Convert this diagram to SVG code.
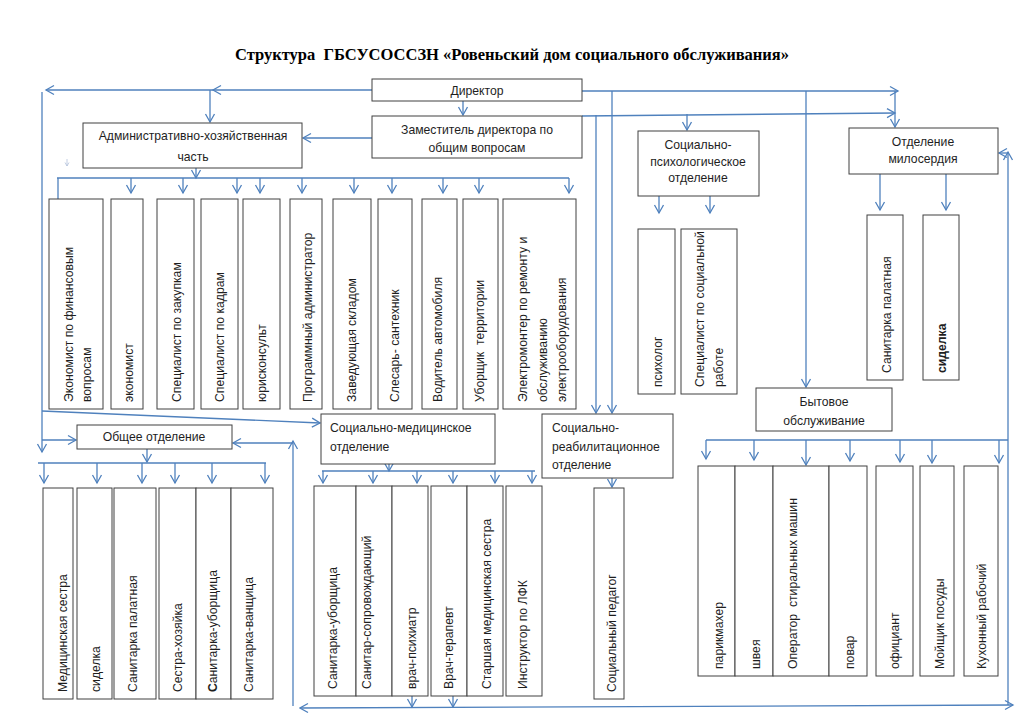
<svg xmlns="http://www.w3.org/2000/svg" width="1024" height="724" viewBox="0 0 1024 724">
<style>
.box{fill:#fff;stroke:#404040;stroke-width:1}
.t{font-family:"Liberation Sans",Arial,sans-serif;font-size:12.2px;fill:#1e1e1e}
.c{text-anchor:middle}
.ttl{font-family:"Liberation Serif","Times New Roman",serif;font-size:16.5px;font-weight:bold;fill:#000;text-anchor:middle}
.ln{stroke:#4f81bd;stroke-width:1.3;fill:none}
.ar{marker-end:url(#a)}
.as{marker-start:url(#b)}
.faint{stroke:#b4c2dc;stroke-width:0.8;fill:none}
</style>
<defs>
<marker id="a" markerUnits="userSpaceOnUse" markerWidth="12" markerHeight="12" refX="9" refY="5" orient="auto" viewBox="0 0 12 10">
<path d="M1,0.5 L9,5 L1,9.5" fill="none" stroke="#4f81bd" stroke-width="1.3"/>
</marker>
<marker id="b" markerUnits="userSpaceOnUse" markerWidth="12" markerHeight="12" refX="1" refY="5" orient="auto" viewBox="0 0 12 10">
<path d="M9,0.5 L1,5 L9,9.5" fill="none" stroke="#4f81bd" stroke-width="1.3"/>
</marker>
<marker id="s" markerUnits="userSpaceOnUse" markerWidth="6" markerHeight="6" refX="4" refY="2.5" orient="auto" viewBox="0 0 6 5">
<path d="M0.5,0.5 L4,2.5 L0.5,4.5" fill="none" stroke="#b4c2dc" stroke-width="0.8"/>
</marker>
</defs>
<rect width="1024" height="724" fill="#fff"/>
<text class="ttl" x="512" y="60" xml:space="preserve">Структура  ГБСУСОССЗН «Ровеньский дом социального обслуживания»</text>

<g id="connectors">
<line class="ln ar" x1="372" y1="90" x2="213" y2="90"/>
<line class="ln ar" x1="213" y1="90" x2="46" y2="90"/>
<line class="ln ar" x1="210" y1="90" x2="210" y2="122"/>
<line class="ln ar" x1="42" y1="92" x2="42" y2="452"/>
<line class="ln ar" x1="42" y1="440" x2="76" y2="440"/>
<line class="ln ar" x1="463" y1="101" x2="463" y2="115"/>
<line class="ln ar" x1="372" y1="138" x2="303" y2="138"/>
<line class="ln ar" x1="196" y1="168" x2="196" y2="178"/>
<line class="ln" x1="57" y1="178" x2="569" y2="178"/>
<line class="ln" x1="58" y1="178" x2="58" y2="199"/>
<line class="ln ar" x1="131" y1="178" x2="131" y2="193"/>
<line class="ln ar" x1="183" y1="178" x2="183" y2="193"/>
<line class="ln ar" x1="237" y1="178" x2="237" y2="193"/>
<line class="ln ar" x1="260" y1="178" x2="260" y2="193"/>
<line class="ln ar" x1="302" y1="178" x2="302" y2="193"/>
<line class="ln ar" x1="354" y1="178" x2="354" y2="193"/>
<line class="ln ar" x1="392" y1="178" x2="392" y2="193"/>
<line class="ln ar" x1="443" y1="178" x2="443" y2="193"/>
<line class="ln ar" x1="479" y1="178" x2="479" y2="193"/>
<line class="ln ar" x1="569" y1="178" x2="569" y2="193"/>
<line class="faint" x1="67" y1="159" x2="67" y2="166" marker-end="url(#s)"/>
<line class="ln ar" x1="582" y1="91" x2="898" y2="91"/>
<line class="ln ar" x1="895" y1="91" x2="895" y2="127"/>
<line class="ln ar" x1="582" y1="116" x2="895" y2="113"/>
<line class="ln ar" x1="687" y1="114" x2="687" y2="130"/>
<line class="ln ar" x1="596" y1="115" x2="596" y2="413"/>
<line class="ln ar" x1="612" y1="91" x2="612" y2="413"/>
<line class="ln ar" x1="806" y1="91" x2="806" y2="387"/>
<line class="ln ar" x1="659" y1="196" x2="659" y2="213"/>
<line class="ln ar" x1="710" y1="196" x2="710" y2="213"/>
<line class="ln ar" x1="880" y1="174" x2="880" y2="210"/>
<line class="ln ar" x1="946" y1="174" x2="946" y2="210"/>
<line class="ln ar" x1="1008" y1="705" x2="1008" y2="152"/>
<line class="ln ar" x1="1008" y1="153" x2="999" y2="153"/>
<line class="ln" x1="706" y1="440" x2="1008" y2="440"/>
<line class="ln ar" x1="706" y1="440" x2="706" y2="459"/>
<line class="ln ar" x1="754" y1="440" x2="754" y2="460"/>
<line class="ln ar" x1="806" y1="440" x2="806" y2="465"/>
<line class="ln ar" x1="850" y1="440" x2="850" y2="461"/>
<line class="ln ar" x1="900" y1="440" x2="900" y2="462"/>
<line class="ln ar" x1="932" y1="440" x2="932" y2="463"/>
<line class="ln ar" x1="999" y1="440" x2="999" y2="463"/>
<line class="ln ar as" x1="300" y1="708" x2="1013" y2="705"/>
<line class="ln ar" x1="412" y1="696" x2="412" y2="707"/>
<line class="ln ar" x1="453" y1="696" x2="453" y2="707"/>
<line class="ln ar" x1="293" y1="706" x2="293" y2="441"/>
<line class="ln ar" x1="293" y1="443" x2="233" y2="443"/>
<line class="ln ar" x1="42" y1="411" x2="320" y2="423"/>
<line class="ln ar" x1="147" y1="449" x2="147" y2="462"/>
<line class="ln" x1="38" y1="463" x2="266" y2="463"/>
<line class="ln ar" x1="44" y1="463" x2="44" y2="483"/>
<line class="ln ar" x1="97" y1="463" x2="97" y2="483"/>
<line class="ln ar" x1="142" y1="463" x2="142" y2="483"/>
<line class="ln ar" x1="175" y1="463" x2="175" y2="483"/>
<line class="ln ar" x1="212" y1="463" x2="212" y2="483"/>
<line class="ln ar" x1="265" y1="463" x2="265" y2="483"/>
<line class="ln ar" x1="389" y1="464" x2="389" y2="471"/>
<line class="ln" x1="322" y1="471" x2="535" y2="471"/>
<line class="ln ar" x1="323" y1="471" x2="323" y2="483"/>
<line class="ln ar" x1="373" y1="471" x2="373" y2="483"/>
<line class="ln ar" x1="417" y1="471" x2="417" y2="483"/>
<line class="ln ar" x1="453" y1="471" x2="453" y2="483"/>
<line class="ln ar" x1="495" y1="471" x2="495" y2="483"/>
<line class="ln ar" x1="532" y1="471" x2="532" y2="483"/>
<line class="ln ar" x1="612" y1="478" x2="612" y2="487"/>
</g>

<g id="director"><rect class="box" x="372" y="79" width="210" height="22"/><text class="t c" x="477" y="95">Директор</text></g>
<g id="deputy"><rect class="box" x="372" y="116" width="210" height="42"/><text class="t c" x="477" y="134">Заместитель директора по</text><text class="t c" x="477" y="152">общим вопросам</text></g>
<g id="ahch"><rect class="box" x="83" y="123" width="219" height="45"/><text class="t c" x="193" y="140">Административно-хозяйственная</text><text class="t c" x="193" y="161">часть</text></g>
<g id="socpsych"><rect class="box" x="638" y="131" width="121" height="65"/><text class="t c" x="698" y="149">Социально-</text><text class="t c" x="698" y="166">психологическое</text><text class="t c" x="698" y="182">отделение</text></g>
<g id="miloserdie"><rect class="box" x="849" y="128" width="149" height="46"/><text class="t c" x="923" y="146">Отделение</text><text class="t c" x="923" y="163">милосердия</text></g>
<g id="obshee"><rect class="box" x="77" y="425" width="155" height="24"/><text class="t c" x="154" y="441">Общее отделение</text></g>
<g id="socmed"><rect class="box" x="321" y="414" width="174" height="50"/><text class="t" x="330" y="432">Социально-медицинское</text><text class="t" x="330" y="451">отделение</text></g>
<g id="socreab"><rect class="box" x="542" y="414" width="131" height="64"/><text class="t" x="552" y="432">Социально-</text><text class="t" x="552" y="451">реабилитационное</text><text class="t" x="552" y="469">отделение</text></g>
<g id="byt"><rect class="box" x="756" y="388" width="136" height="43"/><text class="t c" x="824" y="406">Бытовое</text><text class="t c" x="824" y="425">обслуживание</text></g>

<g id="ahch-1"><rect class="box" x="49" y="199" width="54" height="210"/><text class="t" transform="translate(73,402) rotate(-90)">Экономист по финансовым<tspan x="0" y="18">вопросам</tspan></text></g>
<g id="ahch-2"><rect class="box" x="111" y="199" width="32" height="210"/><text class="t" transform="translate(133,402) rotate(-90)">экономист</text></g>
<g id="ahch-3"><rect class="box" x="157" y="199" width="37" height="210"/><text class="t" transform="translate(181,402) rotate(-90)">Специалист по закупкам</text></g>
<g id="ahch-4"><rect class="box" x="201" y="199" width="37" height="210"/><text class="t" transform="translate(224,402) rotate(-90)">Специалист по кадрам</text></g>
<g id="ahch-5"><rect class="box" x="243" y="199" width="37" height="210"/><text class="t" transform="translate(266,402) rotate(-90)">юрисконсульт</text></g>
<g id="ahch-6"><rect class="box" x="290" y="199" width="32" height="210"/><text class="t" transform="translate(312,402) rotate(-90)">Программный администратор</text></g>
<g id="ahch-7"><rect class="box" x="333" y="199" width="38" height="210"/><text class="t" transform="translate(356,402) rotate(-90)">Заведующая складом</text></g>
<g id="ahch-8"><rect class="box" x="378" y="199" width="34" height="210"/><text class="t" transform="translate(399,402) rotate(-90)">Слесарь- сантехник</text></g>
<g id="ahch-9"><rect class="box" x="422" y="199" width="35" height="210"/><text class="t" transform="translate(442,402) rotate(-90)">Водитель автомобиля</text></g>
<g id="ahch-10"><rect class="box" x="463" y="199" width="35" height="210"/><text class="t" transform="translate(484,402) rotate(-90)" xml:space="preserve">Уборщик  территории</text></g>
<g id="ahch-11"><rect class="box" x="503" y="199" width="73" height="210"/><text class="t" transform="translate(527,402) rotate(-90)">Электромонтер по ремонту и<tspan x="0" y="19.5">обслуживанию</tspan><tspan x="0" y="39">электрооборудования</tspan></text></g>

<g id="obs-1"><rect class="box" x="43" y="488" width="30" height="211"/><text class="t" transform="translate(67,692) rotate(-90)">Медицинская сестра</text></g>
<g id="obs-2"><rect class="box" x="77" y="488" width="35" height="211"/><text class="t" transform="translate(100,692) rotate(-90)">сиделка</text></g>
<g id="obs-3"><rect class="box" x="114" y="488" width="42" height="211"/><text class="t" transform="translate(137,692) rotate(-90)">Санитарка палатная</text></g>
<g id="obs-4"><rect class="box" x="159" y="488" width="37" height="211"/><text class="t" transform="translate(182,692) rotate(-90)">Сестра-хозяйка</text></g>
<g id="obs-5"><rect class="box" x="196" y="488" width="35" height="211"/><text class="t" transform="translate(217,692) rotate(-90)"><tspan font-weight="bold">С</tspan>анитарка-уборщица</text></g>
<g id="obs-6"><rect class="box" x="231" y="488" width="42" height="211"/><text class="t" transform="translate(253,692) rotate(-90)">Санитарка-ванщица</text></g>

<g id="sm-1"><rect class="box" x="314" y="486" width="42" height="210"/><text class="t" transform="translate(337,689) rotate(-90)">Санитарка-уборщица</text></g>
<g id="sm-2"><rect class="box" x="356" y="486" width="36" height="210"/><text class="t" transform="translate(371,689) rotate(-90)">Санитар-сопровождающий</text></g>
<g id="sm-3"><rect class="box" x="392" y="486" width="36" height="210"/><text class="t" transform="translate(416,689) rotate(-90)">врач-психиатр</text></g>
<g id="sm-4"><rect class="box" x="431" y="486" width="36" height="210"/><text class="t" transform="translate(453,689) rotate(-90)">Врач-терапевт</text></g>
<g id="sm-5"><rect class="box" x="467" y="486" width="36" height="210"/><text class="t" transform="translate(491,689) rotate(-90)">Старшая медицинская сестра</text></g>
<g id="sm-6"><rect class="box" x="506" y="486" width="36" height="210"/><text class="t" transform="translate(527,689) rotate(-90)">Инструктор по ЛФК</text></g>

<g id="sr-1"><rect class="box" x="594" y="488" width="30" height="211"/><text class="t" transform="translate(616,692) rotate(-90)">Социальный педагог</text></g>

<g id="sp-1"><rect class="box" x="638" y="229" width="37" height="165"/><text class="t" transform="translate(662,387) rotate(-90)">психолог</text></g>
<g id="sp-2"><rect class="box" x="681" y="229" width="56" height="165"/><text class="t" transform="translate(704,387) rotate(-90)">Специалист по социальной<tspan x="0" y="19">работе</tspan></text></g>

<g id="ml-1"><rect class="box" x="867" y="215" width="36" height="165"/><text class="t" transform="translate(891,373) rotate(-90)">Санитарка палатная</text></g>
<g id="ml-2"><rect class="box" x="923" y="215" width="36" height="165"/><text class="t" font-weight="bold" transform="translate(946,373) rotate(-90)">сиделка</text></g>

<g id="bt-1"><rect class="box" x="698" y="466" width="37" height="210"/><text class="t" transform="translate(723,669) rotate(-90)">парикмахер</text></g>
<g id="bt-2"><rect class="box" x="735" y="466" width="38" height="210"/><text class="t" transform="translate(760,669) rotate(-90)">швея</text></g>
<g id="bt-3"><rect class="box" x="773" y="466" width="56" height="210"/><text class="t" transform="translate(797,669) rotate(-90)" xml:space="preserve">Оператор  стиральных машин</text></g>
<g id="bt-4"><rect class="box" x="829" y="466" width="38" height="210"/><text class="t" transform="translate(854,669) rotate(-90)">повар</text></g>
<g id="bt-5"><rect class="box" x="876" y="466" width="37" height="210"/><text class="t" transform="translate(899,669) rotate(-90)">официант</text></g>
<g id="bt-6"><rect class="box" x="920" y="466" width="34" height="210"/><text class="t" transform="translate(944,669) rotate(-90)">Мойщик посуды</text></g>
<g id="bt-7"><rect class="box" x="964" y="466" width="34" height="210"/><text class="t" transform="translate(986,669) rotate(-90)">Кухонный рабочий</text></g>
</svg>
